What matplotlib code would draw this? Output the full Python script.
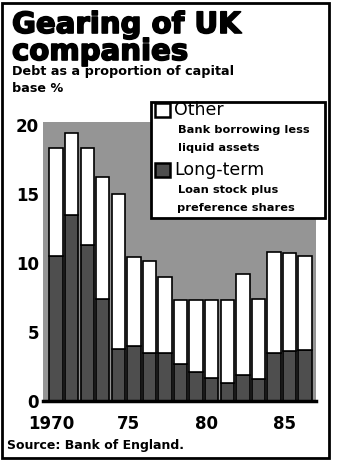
import matplotlib
matplotlib.use('Agg')
import matplotlib.pyplot as plt
import matplotlib.patheffects as pe
import matplotlib.transforms as mtransforms
from matplotlib.patches import Rectangle

### Data
years = list(range(1970, 1987))
long_term = [10.5, 13.5, 11.3, 7.4, 3.8, 4.0, 3.5, 3.5, 2.7, 2.1, 1.7, 1.3, 1.9, 1.6, 3.5, 3.6, 3.7]
other = [7.8, 5.9, 7.05, 8.8, 11.2, 6.4, 6.6, 5.5, 4.6, 5.2, 5.6, 6.0, 7.3, 5.8, 7.3, 7.1, 6.8]
tick_years = [1970, 1975, 1980, 1985]
tick_labels = ['1970', '75', '80', '85']
y_ticks = [0, 5, 10, 15, 20]

W, H = 352, 462
BG = '#959595'       # stippled background
DARK = '#4e4e4e'     # long-term shading


def fx(x):
    return x / W


def fy(y):
    return 1 - y / H


fig = plt.figure(figsize=(W / 100, H / 100), dpi=100)
fig.patch.set_facecolor('white')

### Main axes
ax = fig.add_axes([fx(43), fy(401), (316 - 43) / W, (401 - 122) / H])
ax.set_facecolor(BG)
ax.bar(years, long_term, width=0.86, color=DARK, edgecolor='black', linewidth=1.2)
ax.bar(years, other, width=0.86, bottom=long_term, color='white', edgecolor='black', linewidth=1.2)
ax.set_xlim(1970 - 0.84, 1970 + 16.7)
ax.set_ylim(0, 20.2)
ax.set_xticks(tick_years)
ax.set_xticklabels(tick_labels, fontsize=12, fontweight='bold')
ax.set_yticks(y_ticks)
ax.set_yticklabels([str(v) for v in y_ticks], fontsize=12, fontweight='bold')
ax.tick_params(axis='x', length=0, pad=10)
ax.tick_params(axis='y', length=0, pad=3)
shift = mtransforms.ScaledTranslation(-5 / 100, 0, fig.dpi_scale_trans)
for lab in ax.get_xticklabels():
    lab.set_transform(lab.get_transform() + shift)
for s in ['left', 'right', 'top']:
    ax.spines[s].set_visible(False)
ax.spines['bottom'].set_linewidth(2.5)

### Titles
heavy = [pe.withStroke(linewidth=1.2, foreground='black')]
fig.text(fx(12), fy(25), 'Gearing of UK', fontsize=21, fontweight='heavy', va='center', ha='left',
         path_effects=heavy)
fig.text(fx(12), fy(52), 'companies', fontsize=21, fontweight='heavy', va='center', ha='left',
         path_effects=heavy)
fig.text(fx(12), fy(72), 'Debt as a proportion of capital', fontsize=9.2, fontweight='bold', va='center', ha='left')
fig.text(fx(12), fy(89), 'base %', fontsize=9.2, fontweight='bold', va='center', ha='left')
fig.text(fx(7), fy(446), 'Source: Bank of England.', fontsize=9, fontweight='bold', va='center', ha='left')

### Legend box
fig.add_artist(Rectangle((fx(151), fy(218)), (325 - 151) / W, (218 - 102) / H,
                         transform=fig.transFigure, facecolor='white', edgecolor='black',
                         linewidth=2, zorder=5))
fig.add_artist(Rectangle((fx(155), fy(117)), 15 / W, 14 / H, transform=fig.transFigure,
                         facecolor='white', edgecolor='black', linewidth=1.8, zorder=6))
fig.add_artist(Rectangle((fx(155), fy(177)), 15 / W, 14 / H, transform=fig.transFigure,
                         facecolor=DARK, edgecolor='black', linewidth=1.8, zorder=6))
fig.text(fx(174), fy(110), 'Other', fontsize=12.5, va='center', ha='left', zorder=7)
fig.text(fx(178), fy(130), 'Bank borrowing less', fontsize=8.2, fontweight='bold', va='center', ha='left', zorder=7)
fig.text(fx(178), fy(148), 'liquid assets', fontsize=8.2, fontweight='bold', va='center', ha='left', zorder=7)
fig.text(fx(174), fy(170), 'Long-term', fontsize=12.5, va='center', ha='left', zorder=7)
fig.text(fx(178), fy(190), 'Loan stock plus', fontsize=8.2, fontweight='bold', va='center', ha='left', zorder=7)
fig.text(fx(177), fy(208), 'preference shares', fontsize=8.2, fontweight='bold', va='center', ha='left', zorder=7)

### Outer frame
fig.add_artist(Rectangle((fx(2), fy(458)), (329 - 2) / W, (458 - 3) / H,
                         transform=fig.transFigure, facecolor='none', edgecolor='black',
                         linewidth=2, zorder=8))

plt.savefig('out.png', dpi=100)
